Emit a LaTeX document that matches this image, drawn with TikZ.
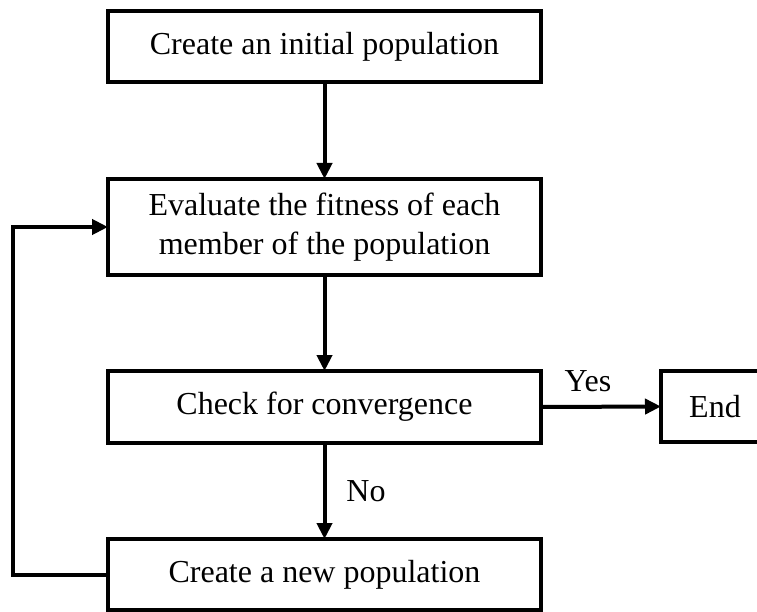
\documentclass[tikz,border=0pt]{standalone}
\usepackage{fontspec}
\setmainfont{Liberation Serif}
\usetikzlibrary{arrows.meta}
\begin{document}
\begin{tikzpicture}[x=1pt,y=-1pt,
  box/.style={draw, line width=3.2pt, minimum width=433pt, inner sep=0pt, outer sep=0pt,
    font=\fontsize{32}{39}\selectfont, align=center},
  conn/.style={line width=4pt, -{Triangle[length=16pt,width=15pt]}},
  lbl/.style={font=\fontsize{32}{39}\selectfont, inner sep=0pt}]
\useasboundingbox (0,0) rectangle (757,612);
\fill[white] (0,0) rectangle (757,612);
\node[box, minimum height=71pt] (b1) at (324.5,46.5) {Create an initial population};
\node[box, minimum height=96pt] (b2) at (324.5,227) {Evaluate the fitness of each\\member of the population};
\node[box, minimum height=72pt] (b3) at (324.5,407) {Check for convergence};
\node[box, minimum height=71pt] (b4) at (324.5,574.5) {Create a new population};
\node[box, minimum width=108pt, minimum height=71pt] (end) at (715,406.5) {End};
\coordinate (lb) at (13,574.5);
\coordinate (lt) at (13,227);
\draw[conn] (b1.south) -- (b2.north);
\draw[conn] (b2.south) -- (b3.north);
\draw[conn] (b3.south) -- (b4.north);
\draw[conn] (b3.east) -- (end.west);
\draw[conn] (b4.west) -- (lb) -- (lt) -- (b2.west);
\node[lbl] (yes) at (588,381) {Yes};
\node[lbl] (no) at (366,491) {No};
\end{tikzpicture}
\end{document}
